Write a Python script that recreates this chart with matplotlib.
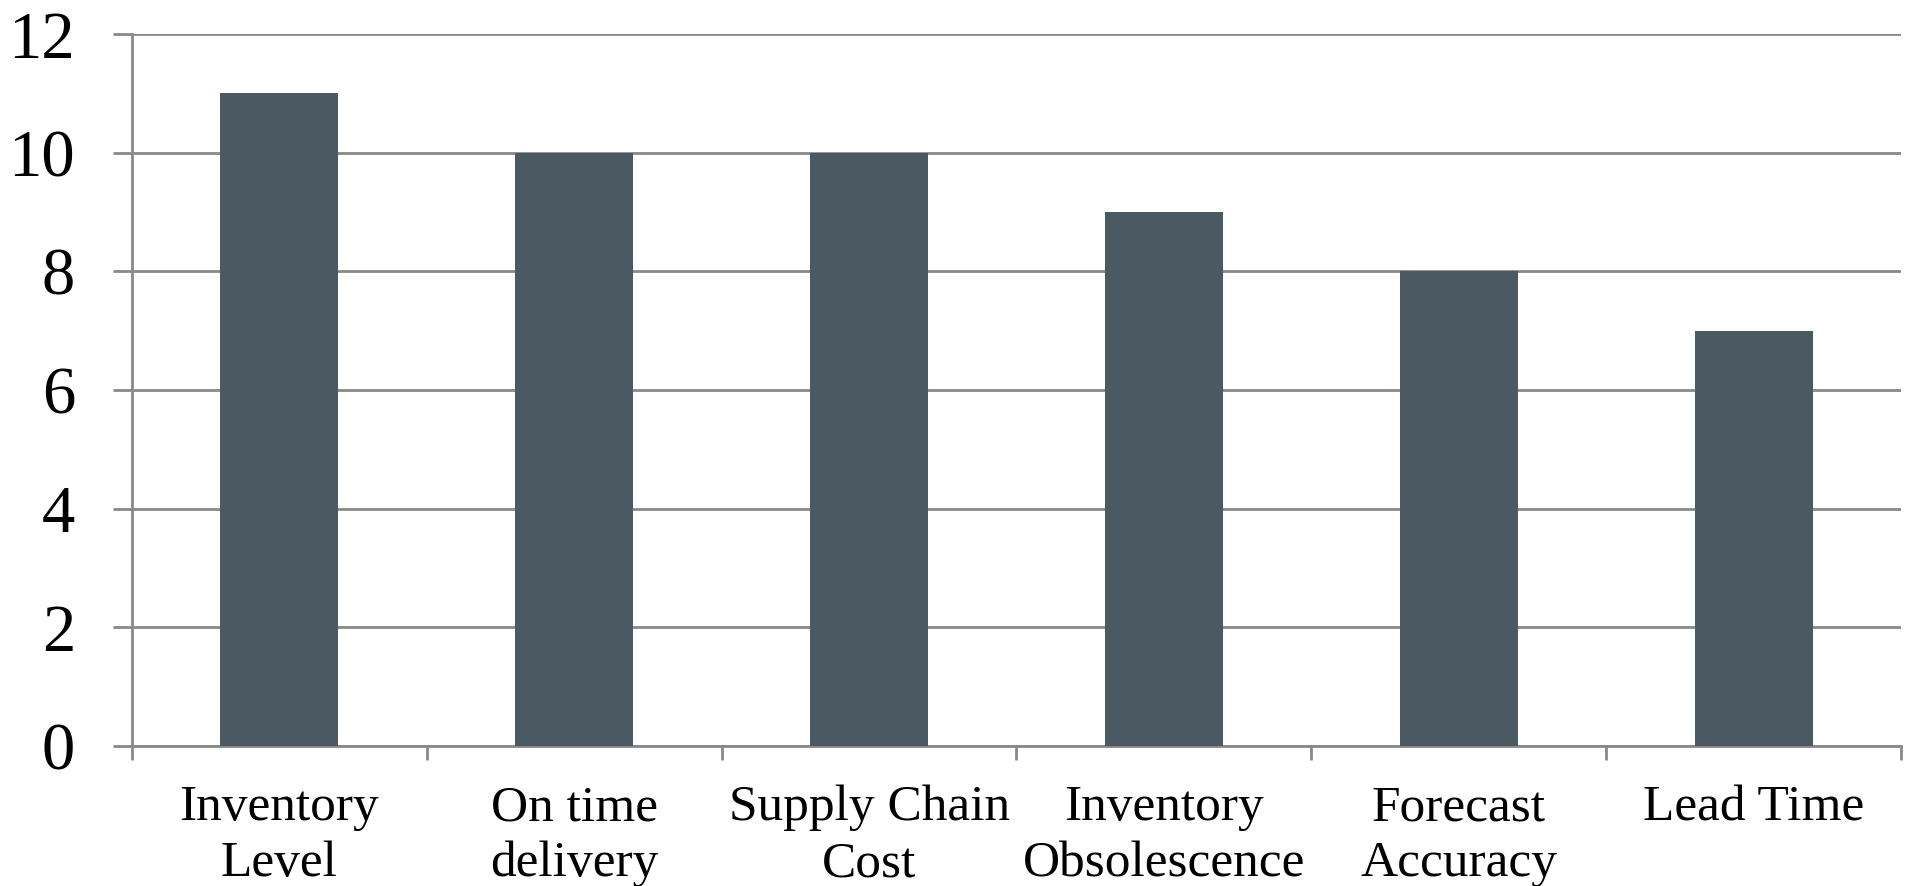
import matplotlib.pyplot as plt
import numpy as np

categories = ["Inventory\nLevel", "On time\ndelivery", "Supply Chain\nCost",
              "Inventory\nObsolescence", "Forecast\nAccuracy", "Lead Time"]
values = [11, 10, 10, 9, 8, 7]
yticks = [0, 2, 4, 6, 8, 10, 12]

bar_color = "#4b5a62"
line_color = "#898989"

plt.rcParams['font.family'] = ['Liberation Serif', 'DejaVu Serif']

fig = plt.figure(figsize=(19.06, 8.86), dpi=100)
ax = fig.add_axes([132 / 1906, 1 - 746 / 886, (1901 - 132) / 1906, (746 - 34) / 886])

x = np.arange(len(categories))
ax.bar(x, values, width=0.4, color=bar_color, zorder=3)

ax.set_xlim(-0.5, len(categories) - 0.5)
ax.set_ylim(0, 12)
ax.set_yticks(yticks)
ax.set_yticklabels([str(t) for t in yticks], fontsize=48)
ax.tick_params(axis='y', length=14, width=2, color=line_color, pad=27)

# category labels between boundary ticks
ax.set_xticks(np.arange(len(categories) + 1) - 0.5)
ax.set_xticklabels([])
ax.set_xticks(x, minor=True)
ax.set_xticklabels(categories, minor=True, fontsize=37, linespacing=1.27)
ax.tick_params(axis='x', which='major', length=10, width=2, color=line_color)
ax.tick_params(axis='x', which='minor', length=0, pad=28)

ax.grid(axis='y', color=line_color, linewidth=2, zorder=0)
for s in ['top', 'right']:
    ax.spines[s].set_visible(False)
for s in ['left', 'bottom']:
    ax.spines[s].set_color(line_color)
    ax.spines[s].set_linewidth(2)

fig.savefig("out.png", dpi=100)
